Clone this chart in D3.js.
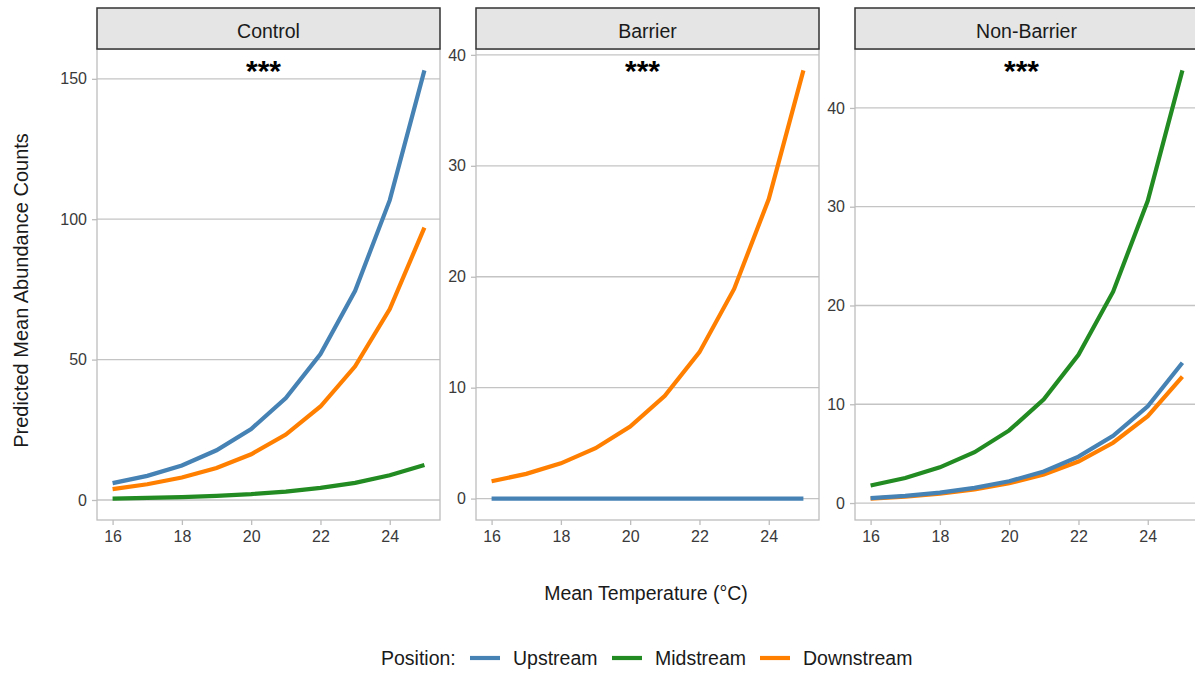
<!DOCTYPE html>
<html>
<head>
<meta charset="utf-8">
<script src="https://cdn.jsdelivr.net/npm/d3@7"></script>
<style>
  html, body { margin: 0; padding: 0; background: #fff; }
  svg { display: block; font-family: "Liberation Sans", Arial, sans-serif; }
</style>
</head>
<body>
<svg id="chart" width="1195" height="673"></svg>
<script>
// Predicted mean abundance by mean temperature, per treatment and stream position
const temps = [16, 17, 18, 19, 20, 21, 22, 23, 24, 25];

const facets = ["Control", "Barrier", "Non-Barrier"];
const positions = ["Upstream", "Midstream", "Downstream"];
const colors = ["#4682B4", "#228B22", "#FF7F00"];

const controlUpstream   = [6.0, 8.6, 12.3, 17.7, 25.3, 36.3, 52.0, 74.5, 106.8, 153.0];
const controlMidstream  = [0.5, 0.72, 1.0, 1.5, 2.1, 3.0, 4.3, 6.1, 8.8, 12.5];
const controlDownstream = [3.9, 5.6, 8.0, 11.4, 16.3, 23.3, 33.3, 47.6, 68.0, 97.0];

const barrierUpstream   = [0, 0, 0, 0, 0, 0, 0, 0, 0, 0];
const barrierDownstream = [1.56, 2.23, 3.18, 4.54, 6.5, 9.27, 13.2, 18.9, 27.0, 38.6];

const nonBarrierUpstream   = [0.5, 0.72, 1.05, 1.53, 2.2, 3.2, 4.7, 6.8, 9.8, 14.2];
const nonBarrierMidstream  = [1.77, 2.53, 3.61, 5.15, 7.35, 10.5, 15.0, 21.4, 30.6, 43.8];
const nonBarrierDownstream = [0.45, 0.65, 0.95, 1.38, 2.0, 2.9, 4.2, 6.1, 8.8, 12.8];

const xTicks = [16, 18, 20, 22, 24];
const yTicks = [[0, 50, 100, 150], [0, 10, 20, 30, 40], [0, 10, 20, 30, 40]];
const significance = ["***", "***", "***"];

const seriesByFacet = [
  [controlUpstream, controlMidstream, controlDownstream],
  [barrierUpstream, null, barrierDownstream],
  [nonBarrierUpstream, nonBarrierMidstream, nonBarrierDownstream]
];

const svg = d3.select("#chart");

const panelLeft = [97, 476, 855];
const panelW = 343;
const plotTop = 49, plotBottom = 520;
const stripTop = 8;

// ggplot-style 5% expansion on each side
function expand(ext) {
  const pad = (ext[1] - ext[0]) * 0.05;
  return [ext[0] - pad, ext[1] + pad];
}

facets.forEach((name, fi) => {
  const x0 = panelLeft[fi];
  const g = svg.append("g");

  const x = d3.scaleLinear()
    .domain(expand(d3.extent(temps)))
    .range([x0, x0 + panelW]);

  const allVals = seriesByFacet[fi].filter(s => s).flat();
  const y = d3.scaleLinear()
    .domain(expand(d3.extent(allVals)))
    .range([plotBottom, plotTop]);

  // horizontal grid
  g.append("g").selectAll("line")
    .data(yTicks[fi]).join("line")
    .attr("x1", x0).attr("x2", x0 + panelW)
    .attr("y1", d => y(d)).attr("y2", d => y(d))
    .attr("stroke", "#c4c4c4").attr("stroke-width", 1.3);

  // panel border
  g.append("rect")
    .attr("x", x0).attr("y", plotTop)
    .attr("width", panelW).attr("height", plotBottom - plotTop)
    .attr("fill", "none").attr("stroke", "#bdbdbd").attr("stroke-width", 1.3);

  // y axis
  const yAxis = d3.axisLeft(y).tickValues(yTicks[fi]).tickSize(5).tickPadding(5);
  const ya = g.append("g").attr("transform", `translate(${x0},0)`).call(yAxis);
  ya.select(".domain").remove();
  ya.selectAll(".tick line").attr("stroke", "#bdbdbd").attr("stroke-width", 1.3);
  ya.selectAll(".tick text").attr("fill", "#3a3a3a").style("font-size", "16px")
    .style("font-family", "Liberation Sans, Arial, sans-serif");

  // x axis
  const xAxis = d3.axisBottom(x).tickValues(xTicks).tickSize(5).tickPadding(6);
  const xa = g.append("g").attr("transform", `translate(0,${plotBottom})`).call(xAxis);
  xa.select(".domain").remove();
  xa.selectAll(".tick line").attr("stroke", "#bdbdbd").attr("stroke-width", 1.3);
  xa.selectAll(".tick text").attr("fill", "#3a3a3a").style("font-size", "16px")
    .style("font-family", "Liberation Sans, Arial, sans-serif");

  // strip
  g.append("rect")
    .attr("x", x0).attr("y", stripTop)
    .attr("width", panelW).attr("height", plotTop - stripTop)
    .attr("fill", "#e5e5e5").attr("stroke", "#333").attr("stroke-width", 1.5);
  g.append("text")
    .attr("x", x0 + panelW / 2).attr("y", (stripTop + plotTop) / 2 + 2)
    .attr("text-anchor", "middle").attr("dominant-baseline", "central")
    .attr("fill", "#1a1a1a").style("font-size", "19.5px")
    .text(name);

  // curves (downstream drawn first, upstream on top)
  const line = d3.line().x((d, i) => x(temps[i])).y(d => y(d));
  [2, 1, 0].forEach(si => {
    const vals = seriesByFacet[fi][si];
    if (!vals) return;
    g.append("path")
      .datum(vals)
      .attr("d", line)
      .attr("fill", "none")
      .attr("stroke", colors[si])
      .attr("stroke-width", 4.2);
  });

  // significance label
  g.append("text")
    .attr("x", x0 + panelW / 2 - 5).attr("y", 81)
    .attr("text-anchor", "middle")
    .attr("fill", "#000").style("font-size", "30px").style("font-weight", "bold")
    .text(significance[fi]);
});

// axis titles
svg.append("text")
  .attr("transform", `translate(21,${(plotTop + plotBottom) / 2 + 6}) rotate(-90)`)
  .attr("text-anchor", "middle").attr("dominant-baseline", "central")
  .attr("fill", "#1a1a1a").style("font-size", "20px")
  .text("Predicted Mean Abundance Counts");

svg.append("text")
  .attr("x", 646).attr("y", 593)
  .attr("text-anchor", "middle").attr("dominant-baseline", "central")
  .attr("fill", "#1a1a1a").style("font-size", "19.5px")
  .text("Mean Temperature (°C)");

// legend
const legendY = 658;
const legend = svg.append("g");
legend.append("text")
  .attr("x", 381).attr("y", legendY)
  .attr("dominant-baseline", "central")
  .attr("fill", "#1a1a1a").style("font-size", "19.5px")
  .text("Position:");
const keyX = [470, 612, 760];
positions.forEach((p, i) => {
  legend.append("line")
    .attr("x1", keyX[i]).attr("x2", keyX[i] + 30)
    .attr("y1", legendY).attr("y2", legendY)
    .attr("stroke", colors[i]).attr("stroke-width", 4.2);
  legend.append("text")
    .attr("x", keyX[i] + 43).attr("y", legendY)
    .attr("dominant-baseline", "central")
    .attr("fill", "#1a1a1a").style("font-size", "19.5px")
    .text(p);
});
</script>
</body>
</html>
